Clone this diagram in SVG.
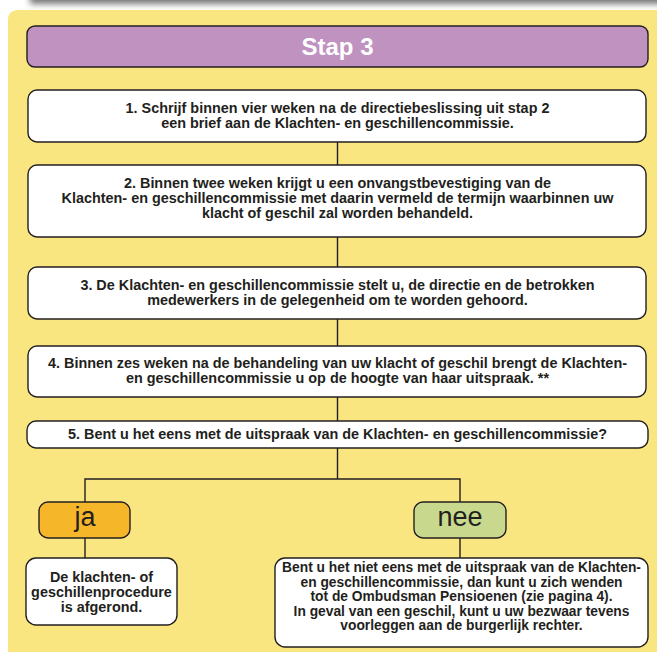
<svg xmlns="http://www.w3.org/2000/svg" width="657" height="653" viewBox="0 0 657 653">
<defs>
<filter id="blur" x="-10%" y="-200%" width="120%" height="500%"><feGaussianBlur stdDeviation="3"/></filter>
<style>
.box{fill:#ffffff;stroke:#231f20;stroke-width:1.4}
.t{font-family:"Liberation Sans",Arial,sans-serif;font-weight:bold;font-size:14.4px;fill:#231f20;text-anchor:middle}
.s{font-size:13.8px}
.big{font-family:"Liberation Sans",Arial,sans-serif;font-size:27px;fill:#231f20;text-anchor:middle}
.c{stroke:#231f20;stroke-width:1.4;fill:none}
</style>
</defs>
<rect x="0" y="0" width="657" height="653" fill="#ffffff"/>
<rect x="30" y="-30" width="700" height="34" fill="#777777" filter="url(#blur)"/>
<path d="M8,20 Q8,10 18,10 L657,10 L657,652 L8,652 Z" fill="#f9e680"/>
<g id="connectors">
<path class="c" d="M337.5,142 V165 M337.5,237 V267 M337.5,319 V346 M337.5,397 V421 M337.5,448 V479 M85,502 V479 H460 V502 M85,538 V558 M460,538 V558"/>
</g>
<g id="stap3">
<rect x="27" y="26" width="621" height="41" rx="8" fill="#bf92bf" stroke="#231f20" stroke-width="1.4"/>
<text x="337.5" y="55" font-family="Liberation Sans,Arial,sans-serif" font-weight="bold" font-size="24" fill="#ffffff" text-anchor="middle">Stap 3</text>
</g>
<g id="n1">
<rect class="box" x="28" y="90" width="618" height="52" rx="9"/>
<text class="t" x="337.5" y="112.5">1. Schrijf binnen vier weken na de directiebeslissing uit stap 2</text>
<text class="t" x="337.5" y="127.5">een brief aan de Klachten- en geschillencommissie.</text>
</g>
<g id="n2">
<rect class="box" x="28" y="165" width="618" height="72" rx="9"/>
<text class="t" x="337.5" y="187.5">2. Binnen twee weken krijgt u een onvangstbevestiging van de</text>
<text class="t" x="337.5" y="202.5">Klachten- en geschillencommissie met daarin vermeld de termijn waarbinnen uw</text>
<text class="t" x="337.5" y="217.5">klacht of geschil zal worden behandeld.</text>
</g>
<g id="n3">
<rect class="box" x="28" y="267" width="618" height="52" rx="9"/>
<text class="t" x="337.5" y="290">3. De Klachten- en geschillencommissie stelt u, de directie en de betrokken</text>
<text class="t" x="337.5" y="305">medewerkers in de gelegenheid om te worden gehoord.</text>
</g>
<g id="n4">
<rect class="box" x="28" y="346" width="618" height="51" rx="9"/>
<text class="t" x="337.5" y="368">4. Binnen zes weken na de behandeling van uw klacht of geschil brengt de Klachten-</text>
<text class="t" x="337.5" y="383">en geschillencommissie u op de hoogte van haar uitspraak. **</text>
</g>
<g id="n5">
<rect class="box" x="27" y="421" width="621" height="27" rx="9"/>
<text class="t" x="337.5" y="439">5. Bent u het eens met de uitspraak van de Klachten- en geschillencommissie?</text>
</g>
<g id="ja">
<rect x="39" y="502" width="91" height="36" rx="9" fill="#f6b62a" stroke="#231f20" stroke-width="1.4"/>
<text class="big" x="85" y="526">ja</text>
</g>
<g id="nee">
<rect x="414" y="502" width="92" height="36" rx="9" fill="#c8d98e" stroke="#231f20" stroke-width="1.4"/>
<text class="big" x="460" y="526">nee</text>
</g>
<g id="afgerond">
<rect class="box" x="26" y="558" width="151" height="67" rx="10"/>
<text class="t" x="101.5" y="581.5">De klachten- of</text>
<text class="t" x="101.5" y="596.5">geschillenprocedure</text>
<text class="t" x="101.5" y="611.5">is afgerond.</text>
</g>
<g id="ombudsman">
<rect class="box" x="275" y="558" width="373" height="89" rx="10"/>
<text class="t s" x="461.5" y="572">Bent u het niet eens met de uitspraak van de Klachten-</text>
<text class="t s" x="461.5" y="586.5">en geschillencommissie, dan kunt u zich wenden</text>
<text class="t s" x="461.5" y="601">tot de Ombudsman Pensioenen (zie pagina 4).</text>
<text class="t s" x="461.5" y="615.5">In geval van een geschil, kunt u uw bezwaar tevens</text>
<text class="t s" x="461.5" y="630">voorleggen aan de burgerlijk rechter.</text>
</g>
</svg>
